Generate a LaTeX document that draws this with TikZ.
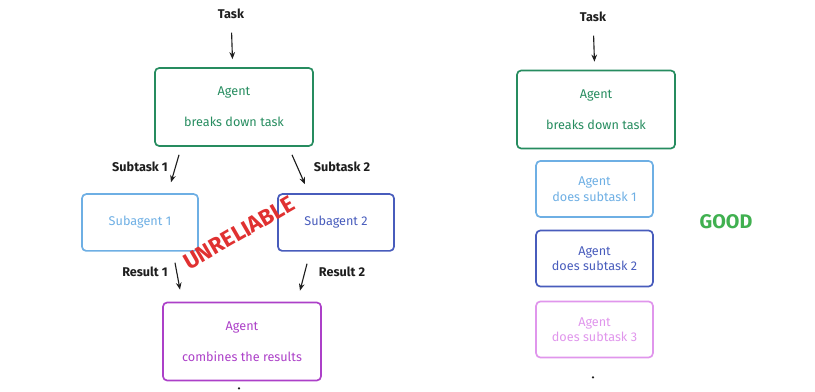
\documentclass[tikz,border=0pt]{standalone}
\usepackage{fontspec}
\setmainfont{Fira Sans}
\definecolor{agreen}{RGB}{38,140,95}
\definecolor{alblue}{RGB}{110,175,228}
\definecolor{aindigo}{RGB}{72,92,188}
\definecolor{apurple}{RGB}{172,64,200}
\definecolor{apink}{RGB}{224,150,236}
\definecolor{ared}{RGB}{224,49,49}
\definecolor{agood}{RGB}{64,176,80}
\definecolor{adark}{RGB}{30,30,30}
\usetikzlibrary{arrows.meta,positioning}

\begin{document}
\begin{tikzpicture}[x=0.025cm,y=-0.025cm,
    every node/.style={font=\fontsize{9}{11}\selectfont},
    box/.style={draw,line width=1.2pt,rounded corners=3pt,align=center,
                minimum width=3.95cm,minimum height=1.95cm},
    small/.style={box,minimum width=2.92cm,minimum height=1.4cm},
    lbl/.style={font=\fontsize{9}{11}\selectfont\bfseries,text=adark,inner sep=1pt},
    arr/.style={-{Stealth[length=5pt,width=4pt]},line width=0.8pt,adark}]

  \useasboundingbox (0,0) rectangle (815,392);

  %% Left: agent with subagents
  \node[lbl] (ltask) at (231,14) {Task};
  \node[box,draw=agreen,text=agreen] (lagent) at (234,107) {Agent\\[11pt]breaks down task};
  \node[box,draw=alblue,text=alblue,minimum width=2.9cm,minimum height=1.42cm] (sub1) at (140,222.5) {Subagent 1};
  \node[box,draw=aindigo,text=aindigo,minimum width=2.9cm,minimum height=1.42cm] (sub2) at (336,222.5) {Subagent 2};
  \node[box,draw=apurple,text=apurple] (lbot) at (242,341.5) {Agent\\[11pt]combines the results};

  \node[lbl] (st1) at (140,167) {Subtask 1};
  \node[lbl] (st2) at (342,167) {Subtask 2};
  \node[lbl] (rs1) at (145,272) {Result 1};
  \node[lbl] (rs2) at (342,272) {Result 2};

  \node[font=\fontsize{16}{18}\selectfont\bfseries,text=ared,rotate=30] (unrel) at (239,233) {UNRELIABLE};

  %% Right: one agent after another
  \node[lbl] (rtask) at (593,17) {Task};
  \node[box,draw=agreen,text=agreen] (ragent) at (596,109.5) {Agent\\[11pt]breaks down task};
  \node[small,draw=alblue,text=alblue] (do1) at (594.5,189) {Agent\\does subtask 1};
  \node[small,draw=aindigo,text=aindigo] (do2) at (594.5,258.5) {Agent\\does subtask 2};
  \node[small,draw=apink,text=apink] (do3) at (594.5,329.5) {Agent\\does subtask 3};

  \node[font=\fontsize{14}{16}\selectfont\bfseries,text=agood] (good) at (726,222) {GOOD};

  %% Arrows
  \draw[arr,shorten <=0.3cm,shorten >=0.2cm] (ltask) -- (lagent);
  \draw[arr] ([shift={(-55,8)}]lagent.south) -- ([shift={(31,-11)}]sub1.north);
  \draw[arr] ([shift={(58,8)}]lagent.south) -- ([shift={(-31,-9)}]sub2.north);
  \draw[arr] ([shift={(35,11)}]sub1.south) -- ([shift={(-62,-12)}]lbot.north);
  \draw[arr] ([shift={(-29,12)}]sub2.south) -- ([shift={(58,-11)}]lbot.north);
  \draw[arr,shorten <=0.3cm,shorten >=0.2cm] (rtask) -- (ragent);

  %% cut-off stubs at the bottom
  \fill[adark] ([shift={(-3,7)}]lbot.south) circle (1.2);
  \fill[adark] ([shift={(-1.5,19)}]do3.south) circle (1.2);
\end{tikzpicture}
\end{document}
